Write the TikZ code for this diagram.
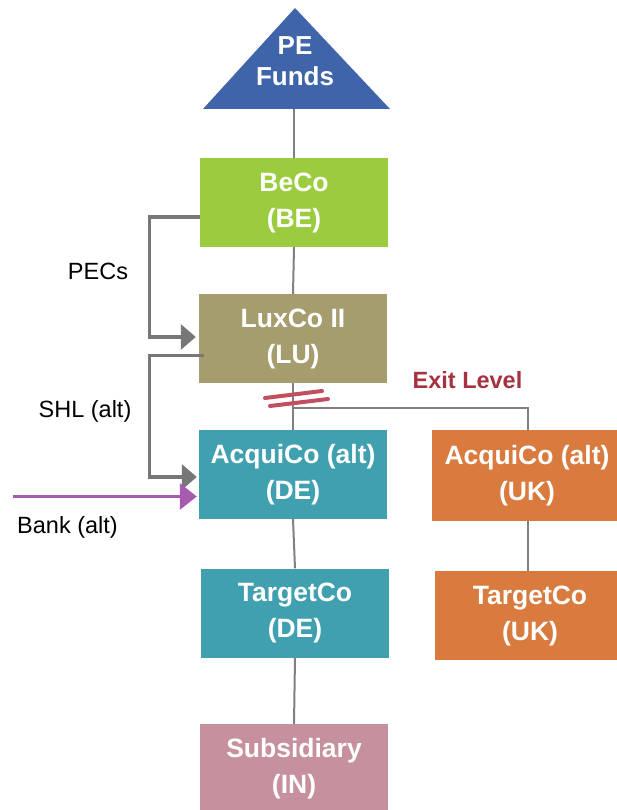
\documentclass[tikz,border=0pt]{standalone}
\usepackage{fontspec}
\setmainfont{Liberation Sans}
\usetikzlibrary{arrows.meta}
\definecolor{triblue}{HTML}{3F64AA}
\definecolor{becogreen}{HTML}{9BCB3F}
\definecolor{luxkhaki}{HTML}{A59D6E}
\definecolor{tealbox}{HTML}{40A0B0}
\definecolor{orngbox}{HTML}{D97B3E}
\definecolor{pinkbox}{HTML}{C6919C}
\definecolor{exitred}{HTML}{A6323F}
\definecolor{slashred}{HTML}{C0505F}
\definecolor{linegray}{HTML}{808080}
\definecolor{conngray}{HTML}{777777}
\definecolor{bankpurple}{HTML}{A85AB0}
\begin{document}
\begin{tikzpicture}[x=1pt,y=-1pt,
  box/.style={rectangle, fill=#1, minimum width=188pt, minimum height=89pt, inner sep=0pt,
    align=center, text=white, font=\fontsize{26.5}{36}\selectfont\bfseries,
    execute at begin node={\rule{0pt}{23.5pt}}},
  link/.style={draw=linegray, line width=2pt},
  conn/.style={draw=conngray, line width=3.3pt, -{Triangle[length=15pt,width=25pt]}},
  bankarrow/.style={draw=bankpurple, line width=3pt, -{Triangle[length=17pt,width=26pt]}},
  slash/.style={draw=slashred, line width=4pt, line cap=round},
  lbl/.style={font=\fontsize{23.5}{28}\selectfont, text=black, inner sep=0pt}
]
\useasboundingbox (0,0) rectangle (616,810);

% triangle
\fill[triblue] (295,8) -- (390,109) -- (203,109) -- cycle;
\node[font=\fontsize{26}{31}\selectfont\bfseries, text=white, align=center, inner sep=0pt] (pe) at (295,61.5) {PE\\Funds};
\coordinate (tribase) at (294,109);

% boxes
\node[box=becogreen] (beco) at (294,202.5) {BeCo\\(BE)};
\node[box=luxkhaki] (lux) at (293,338.5) {LuxCo II\\(LU)};
\node[box=tealbox] (acq) at (293,474.5) {AcquiCo (alt)\\(DE)};
\node[box=tealbox] (tgt) at (295,613) {TargetCo\\(DE)};
\node[box=pinkbox] (sub) at (294,768.5) {Subsidiary\\(IN)};
\node[box=orngbox, minimum width=190pt, minimum height=91pt] (acquk) at (527,475.5) {AcquiCo (alt)\\(UK)};
\node[box=orngbox, minimum width=190pt] (tgtuk) at (530,615.5) {TargetCo\\(UK)};

% vertical links
\draw[link] (tribase) -- (tribase |- beco.north);
\draw[link] (beco.south) -- (lux.north);
\draw[link] (lux.south) -- (acq.north);
\draw[link] (acq.south) -- (tgt.north);
\draw[link] (tgt.south) -- (sub.north);
\coordinate (exitjoin) at (293,408);
\draw[link] (exitjoin) -| ([xshift=1pt]acquk.north);
\draw[link] ([xshift=1pt]acquk.south) -- ([xshift=1pt]acquk.south |- tgtuk.north);

% exit level marks
\draw[slash] ([shift={(-28,-10)}]exitjoin) -- ([shift={(29,-17)}]exitjoin);
\draw[slash] ([shift={(-23,-2)}]exitjoin) -- ([shift={(35,-9)}]exitjoin);
\node[font=\fontsize{23.5}{28}\selectfont\bfseries, text=exitred, anchor=base, inner sep=0pt] (exit) at (467.5,388) {Exit Level};

% side connectors
\draw[conn] ([yshift=-14.5pt]beco.west) -- ++(-50,0) |- ([xshift=-3pt,yshift=1.5pt]lux.west);
\draw[conn] ([xshift=5pt,yshift=-17pt]lux.west) -- ++(-54,0) |- ([xshift=-2pt,yshift=-2.5pt]acq.west);
\coordinate (bankstart) at (13,496.5);
\draw[bankarrow] (bankstart) -- ([xshift=-2pt,yshift=-22pt]acq.west);

% labels
\node[lbl, anchor=base] (pecs) at (98,279) {PECs};
\node[lbl, anchor=base] (shl) at (85,417) {SHL (alt)};
\node[lbl, anchor=base] (bank) at (67.5,533) {Bank (alt)};
\end{tikzpicture}
\end{document}
